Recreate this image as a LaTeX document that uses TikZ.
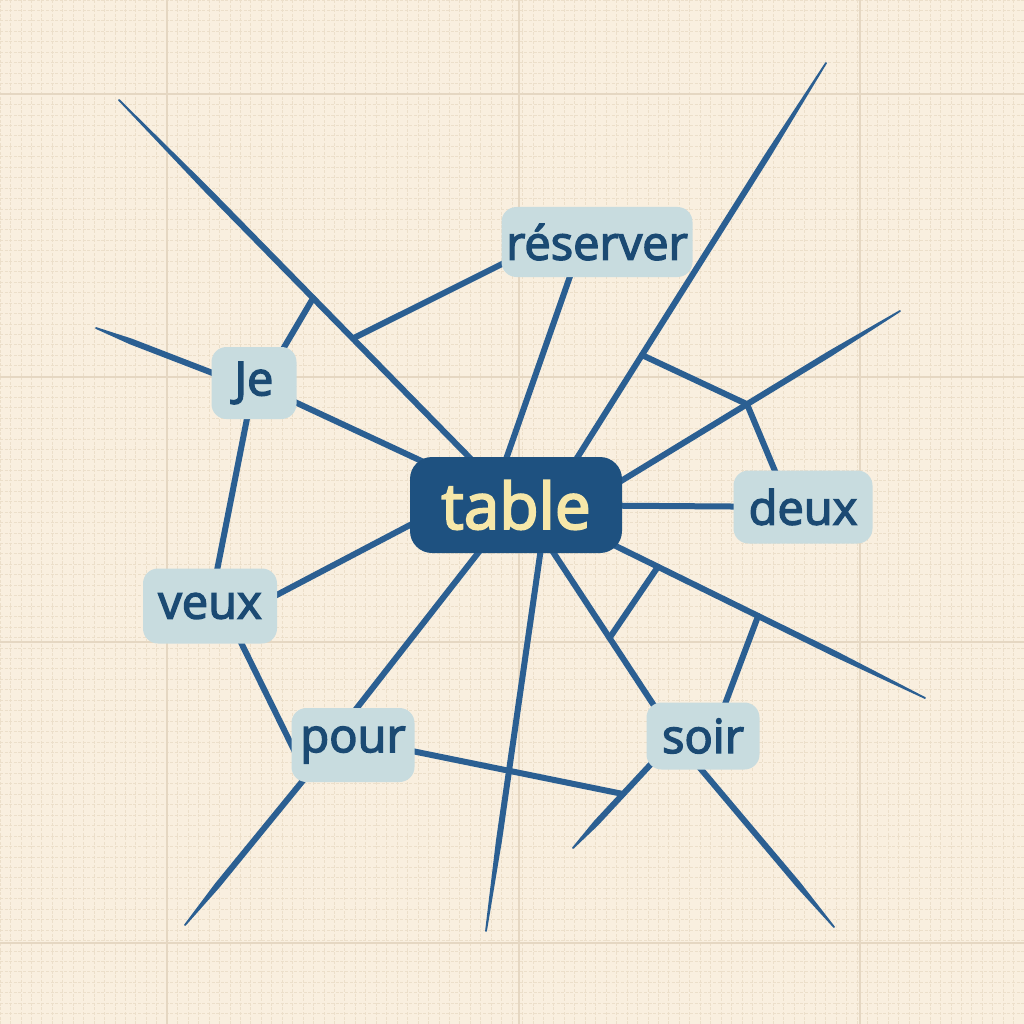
\documentclass[tikz,border=0pt]{standalone}
\usepackage{fontspec}
\setmainfont{Open Sans}
\newfontfamily\wordfont{Open Sans}[FakeBold=3]
\usetikzlibrary{calc}
\pgfdeclarelayer{gridlayer}
\pgfdeclarelayer{linelayer}
\pgfsetlayers{gridlayer,linelayer,main}
\definecolor{bgcol}{HTML}{F9EFDF}
\definecolor{finecol}{HTML}{ECDFCA}
\definecolor{majorcol}{HTML}{E5D7C2}
\definecolor{linecol}{HTML}{2B5F92}
\definecolor{tablefill}{HTML}{1E5180}
\definecolor{tabletext}{HTML}{F6E7A9}
\definecolor{wordfill}{HTML}{C8DCDF}
\definecolor{wordtext}{HTML}{1B4A73}
\newcommand\taperline[2]{%
  \fill[linecol] ($(#1)!3pt!90:(#2)$) -- ($(#1)!0.78!(#2)!3pt!90:(#2)$) --
    ($(#2)!0.9pt!-90:(#1)$) -- ($(#2)!0.9pt!90:(#1)$) --
    ($(#1)!0.78!(#2)!3pt!-90:(#2)$) -- ($(#1)!3pt!-90:(#2)$) -- cycle;
  \fill[linecol] (#2) circle (0.9pt);}
\begin{document}
\begin{tikzpicture}[x=1pt,y=-1pt,
  fine/.style={finecol, line width=0.8pt, dash pattern=on 3pt off 1.6pt},
  major/.style={majorcol, line width=1.1pt},
  lin/.style={linecol, line width=6pt, line cap=round},
  wordbox/.style={fill=wordfill, text=wordtext, rounded corners=15pt,
    font=\wordfont\fontsize{47}{50}\selectfont, inner sep=0pt, minimum height=72pt},
  tablebox/.style={fill=tablefill, text=tabletext, rounded corners=22pt,
    font=\wordfont\fontsize{64}{68}\selectfont, inner sep=0pt,
    minimum width=212pt, minimum height=96pt}]
\useasboundingbox (0,0) rectangle (1024,1024);
\begin{pgfonlayer}{gridlayer}
  \fill[bgcol] (0,0) rectangle (1024,1024);
  \foreach \i in {0,...,98} {
    \draw[fine] (\i*10.45,0) -- (\i*10.45,1024);
    \draw[fine] (0,\i*10.45) -- (1024,\i*10.45);
  }
  \foreach \x in {167,519,860} \draw[major] (\x,0) -- (\x,1024);
  \foreach \y in {94,377,642,943} \draw[major] (0,\y) -- (1024,\y);
\end{pgfonlayer}

% nodes
\node[tablebox] (table) at (516,505) {table};
\node[wordbox, minimum width=191pt, minimum height=70pt] (res) at (597,242) {réserver};
\node[wordbox, minimum width=85pt] (je) at (254,383) {Je};
\node[wordbox, minimum width=134pt, minimum height=75pt] (veux) at (210,606) {veux};
\node[wordbox, minimum width=123pt, minimum height=74pt] (pour) at (353,745) {pour};
\node[wordbox, minimum width=113pt, minimum height=67pt] (soir) at (703,736) {soir};
\node[wordbox, minimum width=139pt, minimum height=73pt] (deux) at (803,507) {deux};

% free ends
\coordinate (a1) at (119,100);
\coordinate (a4) at (96,328);
\coordinate (a10) at (185,925);
\coordinate (a12) at (573,848);
\coordinate (a13) at (486,931);
\coordinate (a15) at (925,698);
\coordinate (a18) at (834,927);
\coordinate (a20) at (900,311);
\coordinate (a22) at (826,63);
% attachment points and junctions
\coordinate (j1) at ($(a1)!0.489!(table)$);
\coordinate (j2) at ($(a1)!0.589!(table)$);
\coordinate (s2) at ($(res)+(-77,13)$);
\coordinate (s3) at ($(je)+(9,0)$);
\coordinate (s4) at ($(je)+(0,6)$);
\coordinate (s7a) at ($(veux)+(40,3)$);
\coordinate (s7b) at ($(table)+(-66,-1)$);
\coordinate (s8a) at ($(veux)+(13,0)$);
\coordinate (s8b) at ($(pour)+(-58,7)$);
\coordinate (s9a) at ($(pour)+(-25,0)$);
\coordinate (s9b) at ($(table)+(-20,25)$);
\coordinate (s10) at ($(pour)+(-21,0)$);
\coordinate (s11) at ($(pour)+(0,-6)$);
\coordinate (s12) at ($(soir)+(-26,0)$);
\coordinate (j11) at ($(s12)!0.518!(a12)$);
\coordinate (s13) at ($(table)+(29,15)$);
\coordinate (s14a) at ($(table)+(16,15)$);
\coordinate (s14b) at ($(soir)+(-29,0)$);
\coordinate (j14) at ($(s14a)!0.546!(s14b)$);
\coordinate (s15) at ($(table)+(0,-8)$);
\coordinate (j15a) at ($(s15)!0.347!(a15)$);
\coordinate (j15b) at ($(s15)!0.592!(a15)$);
\coordinate (s17) at ($(soir)+(10,0)$);
\coordinate (s18) at ($(soir)+(-30,0)$);
\coordinate (s20) at ($(table)+(64,1)$);
\coordinate (j20) at ($(s20)!0.522!(a20)$);
\coordinate (s21a) at ($(table)+(-26,0)$);
\coordinate (s21b) at ($(res)+(-15,0)$);
\coordinate (s22) at ($(table)+(44,-20)$);
\coordinate (j22) at ($(s22)!0.308!(a22)$);
\coordinate (s24) at ($(deux)+(-13,0)$);

\begin{pgfonlayer}{linelayer}
  % tapered free strokes
  \taperline{table}{a1}
  \taperline{s4}{a4}
  \taperline{s10}{a10}
  \taperline{s12}{a12}
  \taperline{s13}{a13}
  \taperline{s15}{a15}
  \taperline{s18}{a18}
  \taperline{s20}{a20}
  \taperline{s22}{a22}
  % connectors
  \draw[lin] (j2) -- (s2);
  \draw[lin] (s3) -- (j1);
  \draw[lin] (je.center) -- (table.center);
  \draw[lin] (je.center) -- (veux.center);
  \draw[lin] (s7a) -- (s7b);
  \draw[lin] (s8a) -- (s8b);
  \draw[lin] (s9a) -- (s9b);
  \draw[lin] (s11) -- (j11);
  \draw[lin] (s14a) -- (s14b);
  \draw[lin] (j15a) -- (j14);
  \draw[lin] (j15b) -- (s17);
  \draw[lin] (table.center) -- (deux.center);
  \draw[lin] (s21a) -- (s21b);
  \draw[lin] (j22) -- (j20);
  \draw[lin] (j20) -- (s24);
\end{pgfonlayer}
\end{tikzpicture}
\end{document}
